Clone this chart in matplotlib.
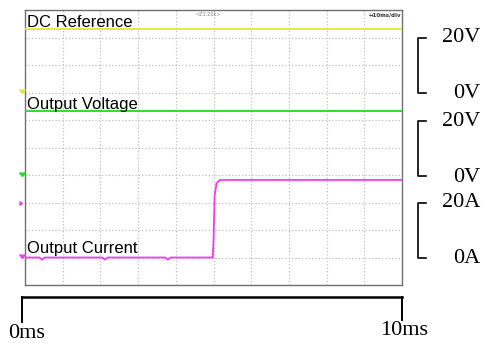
import matplotlib.pyplot as plt
import numpy as np

# scope settings (divisions: 10 x 10, 1 ms/div drawn as 0..10 ms)
ch_names = ["DC Reference", "Output Voltage", "Output Current"]
ch_colors = ["#e2e63c", "#1edc1e", "#f03cf0"]
ch_offset_div = [7.0, 3.95, 1.0]      # ground marker positions
ch_scale = [10.0, 10.0, 10.0]         # units per division
ch_bracket_labels = [("20V", "0V"), ("20V", "0V"), ("20A", "0A")]

# traces
ref_t = [0.0, 10.0]
ref_v = [23.1, 23.1]

vout_t = [0.0, 10.0]
vout_v = [23.8, 23.8]

iout_t = [0.0, 0.38, 0.45, 0.52, 2.05, 2.12, 2.19, 3.72, 3.79, 3.86,
          4.98, 5.0, 5.03, 5.08, 5.17, 10.0]
iout_a = [0.0, 0.0, -0.8, 0.0, 0.0, -0.8, 0.0, 0.0, -0.8, 0.0,
          0.0, 6.0, 22.5, 27.0, 28.2, 28.2]

time_labels = ["0ms", "10ms"]

SANS = ["Liberation Sans", "DejaVu Sans"]
SERIF = ["Liberation Serif", "DejaVu Serif"]

fig = plt.figure(figsize=(4.85, 3.43), dpi=100)
ax = fig.add_axes([25 / 485, 58 / 343, 377 / 485, 275 / 343])
ax.set_xlim(0, 10)
ax.set_ylim(0, 10)
ax.set_xticks([])
ax.set_yticks([])
for s in ax.spines.values():
    s.set_color("#707070")
    s.set_linewidth(1.0)

# graticule
for k in range(1, 10):
    ax.axvline(k, color="#b4b4b4", lw=0.8, ls=(0, (1, 2)), zorder=1)
    ax.axhline(k, color="#b4b4b4", lw=0.8, ls=(0, (1, 2)), zorder=1)

traces = [(ref_t, ref_v), (vout_t, vout_v), (iout_t, iout_a)]
label_y = [9.38, 6.4, 1.17]
for i, (t, v) in enumerate(traces):
    y = ch_offset_div[i] + np.array(v) / ch_scale[i]
    ax.plot(t, y, color=ch_colors[i], lw=1.3, zorder=3)
    # ground markers at the left edge
    ax.plot([-0.09], [ch_offset_div[i]], marker=7, color=ch_colors[i],
            ms=4, clip_on=False, zorder=4)
    ax.text(0.05, label_y[i], ch_names[i], fontsize=12, family=SANS,
            ha="left", va="baseline", zorder=5)

ax.plot([-0.09], [3.0], marker=5, color=ch_colors[2], ms=3, clip_on=False)

# scope header text
ax.text(4.85, 9.82, "<Z1:20k>", fontsize=3.5, color="#808080", ha="center", va="center")
ax.text(9.98, 9.82, "\u219410ms/div", fontsize=4, color="#303030", ha="right",
        va="center", fontweight="bold")

# level brackets on the right
for i, (top_lbl, bot_lbl) in enumerate(ch_bracket_labels):
    y0 = ch_offset_div[i]
    y1 = y0 + 20 / ch_scale[i]
    ax.plot([10.64, 10.42, 10.42, 10.64], [y1, y1, y0, y0], color="black",
            lw=1.2, clip_on=False)
    ax.text(12.07, y1, top_lbl, fontsize=16, family=SERIF, ha="right", va="center")
    ax.text(12.07, y0 - 0.05, bot_lbl, fontsize=16, family=SERIF, ha="right", va="center")

# time scale bar under the screen
ax.plot([-0.08, 10.0], [-0.44, -0.44], color="black", lw=1.8, clip_on=False)
ax.plot([-0.08, -0.08], [-0.44, -1.34], color="black", lw=1.4, clip_on=False)
ax.plot([10.0, 10.0], [-0.44, -1.26], color="black", lw=1.4, clip_on=False)
ax.text(0.05, -1.75, time_labels[0], fontsize=16, family=SERIF, ha="center", va="center")
ax.text(10.05, -1.65, time_labels[1], fontsize=16, family=SERIF, ha="center", va="center")

fig.savefig("out.png", dpi=100)
